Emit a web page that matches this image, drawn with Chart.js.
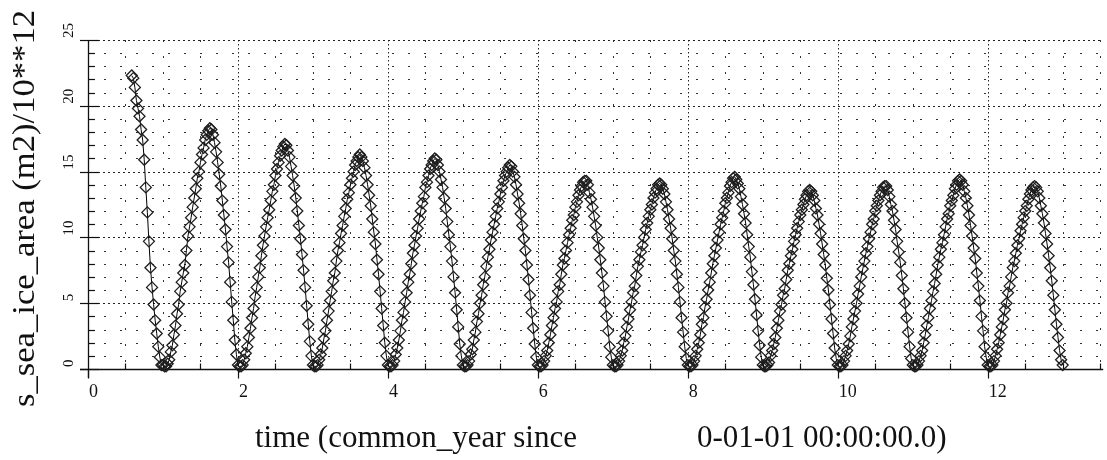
<!DOCTYPE html>
<html>
<head>
<meta charset="utf-8">
<script src="https://cdn.jsdelivr.net/npm/chart.js@4.4.1/dist/chart.umd.min.js"></script>
<style>
  html, body { margin: 0; padding: 0; background: #fff; }
</style>
</head>
<body>
<canvas id="iceChart" width="1107" height="460"></canvas>
<script>
// sampling of the model output: 48 steps per year
const stepsPerYear = 48;
const firstStep = 28; // first sample of year 0 is at step 28

// s_sea_ice_area, 10**12 m2, one array per model year
const year0 = [22.3,22.1,21.4,20.4,19.8,19.2,18.2,17.4,15.9,13.8,11.9,9.7,7.7,6.2,4.9,3.7,2.7,1.7,0.9,0.3];
const year1 = [0.3,0.2,0.2,0.4,0.7,1.3,1.8,2.6,3.3,4.2,4.9,5.9,6.6,7.3,7.9,9.0,10.1,10.8,11.5,12.3,13.0,13.7,14.5,15.0,15.7,16.3,16.8,17.4,17.8,18.1,18.3,18.2,17.8,17.2,16.5,15.7,14.8,13.9,12.8,11.7,10.6,9.3,8.1,6.6,5.1,3.7,2.2,1.1];
const year2 = [0.3,0.2,0.2,0.3,0.7,1.2,1.7,2.4,3.1,3.9,4.6,5.5,6.2,7.0,7.7,8.6,9.4,10.1,10.8,11.5,12.1,12.8,13.5,14.0,14.7,15.2,15.7,16.2,16.6,16.9,17.1,17.0,16.6,16.1,15.4,14.7,13.9,13.0,12.0,10.9,9.9,8.7,7.5,6.2,4.8,3.4,2.1,1.0];
const year3 = [0.3,0.2,0.2,0.3,0.7,1.1,1.6,2.3,2.9,3.7,4.4,5.2,5.9,6.7,7.3,8.2,9.0,9.6,10.3,10.9,11.6,12.2,12.9,13.4,14.0,14.5,15.0,15.5,15.8,16.1,16.3,16.1,15.8,15.3,14.7,14.0,13.2,12.4,11.4,10.4,9.5,8.3,7.2,5.9,4.6,3.3,2.0,1.0];
const year4 = [0.3,0.2,0.2,0.3,0.6,1.1,1.6,2.2,2.9,3.7,4.3,5.1,5.8,6.6,7.2,8.0,8.8,9.4,10.1,10.7,11.4,12.0,12.6,13.1,13.8,14.2,14.7,15.2,15.5,15.8,16.0,15.9,15.5,15.0,14.4,13.8,13.0,12.2,11.2,10.2,9.3,8.2,7.0,5.8,4.5,3.2,1.9,1.0];
const year5 = [0.3,0.2,0.2,0.3,0.6,1.1,1.5,2.2,2.8,3.6,4.2,5.0,5.6,6.4,7.0,7.8,8.5,9.1,9.8,10.4,11.0,11.6,12.2,12.7,13.3,13.8,14.3,14.7,15.0,15.3,15.5,15.4,15.0,14.6,14.0,13.3,12.6,11.8,10.9,9.9,9.0,7.9,6.8,5.6,4.3,3.1,1.9,0.9];
const year6 = [0.3,0.2,0.2,0.3,0.6,1.0,1.4,2.0,2.6,3.3,3.9,4.6,5.1,5.9,6.4,7.2,7.9,8.4,9.0,9.6,10.2,10.7,11.3,11.7,12.3,12.7,13.2,13.6,13.9,14.2,14.3,14.3,14.0,13.4,12.9,12.3,11.6,10.9,10.0,9.2,8.3,7.3,6.3,5.1,4.0,2.9,1.7,0.9];
const year7 = [0.3,0.2,0.2,0.3,0.6,1.0,1.4,2.0,2.5,3.2,3.8,4.5,5.1,5.8,6.3,7.1,7.8,8.3,8.9,9.4,10.0,10.6,11.1,11.6,12.1,12.5,13.0,13.4,13.7,14.0,14.1,14.0,13.7,13.3,12.7,12.1,11.4,10.7,9.9,9.0,8.2,7.2,6.2,5.1,3.9,2.8,1.7,0.8];
const year8 = [0.3,0.2,0.2,0.3,0.6,1.0,1.5,2.0,2.6,3.4,3.9,4.7,5.3,6.0,6.6,7.3,8.0,8.6,9.2,9.8,10.4,11.0,11.5,12.0,12.6,13.0,13.4,13.9,14.2,14.5,14.6,14.4,14.1,13.7,13.1,12.5,11.8,11.1,10.2,9.3,8.5,7.4,6.4,5.3,4.1,2.9,1.8,0.9];
const year9 = [0.3,0.2,0.2,0.3,0.5,1.0,1.4,1.9,2.4,3.1,3.7,4.4,4.9,5.6,6.1,6.8,7.5,8.0,8.6,9.1,9.7,10.2,10.7,11.2,11.7,12.1,12.5,12.9,13.2,13.5,13.6,13.5,13.2,12.8,12.2,11.7,11.0,10.3,9.5,8.7,7.9,6.9,6.0,4.9,3.8,2.7,1.6,0.8];
const year10 = [0.3,0.2,0.2,0.3,0.6,1.0,1.4,1.9,2.5,3.2,3.8,4.4,5.0,5.7,6.3,7.0,7.6,8.2,8.8,9.3,9.9,10.4,11.0,11.4,12.0,12.4,12.8,13.2,13.5,13.8,13.9,13.9,13.6,13.1,12.5,12.0,11.3,10.6,9.7,8.9,8.1,7.1,6.1,5.0,3.9,2.8,1.7,0.8];
const year11 = [0.3,0.2,0.2,0.3,0.6,1.0,1.4,2.0,2.6,3.3,3.9,4.6,5.2,5.9,6.5,7.2,7.9,8.5,9.1,9.6,10.2,10.8,11.4,11.8,12.4,12.8,13.2,13.7,14.0,14.3,14.4,14.3,14.0,13.5,13.0,12.4,11.7,10.9,10.1,9.2,8.4,7.3,6.3,5.2,4.0,2.9,1.7,0.9];
const year12 = [0.3,0.2,0.2,0.3,0.6,1.0,1.5,2.0,2.6,3.2,3.8,4.5,5.0,5.8,6.3,7.0,7.7,8.2,8.8,9.4,9.9,10.5,11.0,11.5,12.0,12.4,12.9,13.3,13.6,13.8,13.9,13.8,13.5,13.0,12.4,11.8,11.1,10.3,9.5,8.6,7.7,6.7,5.6,4.5,3.4,2.4,1.4,0.7,0.3];

const xTicks = [0, 2, 4, 6, 8, 10, 12];
const yTicks = [0, 5, 10, 15, 20, 25];
const yTitle = 's_sea_ice_area (m2)/10**12';
const xTitleLeft = 'time (common_year since';
const xTitleRight = '0-01-01 00:00:00.0)';

// build {x, y} points; time in years since 0-01-01
const years = [year1, year2, year3, year4, year5, year6, year7, year8, year9, year10, year11, year12];
const points = year0.map((v, j) => ({ x: (firstStep + j) / stepsPerYear, y: v }));
years.forEach((arr, k) => {
    arr.forEach((v, j) => points.push({ x: k + 1 + j / stepsPerYear, y: v }));
});

const serif = '"Liberation Serif", "Times New Roman", serif';

function seg(ctx, x1, y1, x2, y2) {
    ctx.beginPath();
    ctx.moveTo(x1, y1);
    ctx.lineTo(x2, y2);
    ctx.stroke();
}

// grid, axes and tick marks in the old plotting style
const paperAxes = {
    id: 'paperAxes',
    beforeDatasetsDraw(chart) {
        const ctx = chart.ctx;
        const xs = chart.scales.x, ys = chart.scales.y;
        const a = chart.chartArea;
        const px = v => Math.round(xs.getPixelForValue(v)) + 0.5;
        const py = v => Math.round(ys.getPixelForValue(v)) + 0.5;
        ctx.save();
        ctx.lineWidth = 1;

        // minor dotted grid
        ctx.strokeStyle = '#333';
        ctx.setLineDash([2, 14]);
        for (let v = 1; v < 25; v++) {
            if (v % 5 === 0) continue;
            seg(ctx, a.left, py(v), a.right, py(v));
        }
        for (let v = 0.5; v <= 13.5; v += 0.5) {
            if (v % 2 === 0) continue;
            seg(ctx, px(v), a.top, px(v), a.bottom);
        }

        // major dotted grid
        ctx.strokeStyle = '#222';
        ctx.setLineDash([2, 3]);
        yTicks.forEach(v => { if (v > 0) seg(ctx, a.left, py(v), a.right, py(v)); });
        ctx.setLineDash([1.5, 2.5]);
        xTicks.forEach(v => { if (v > 0) seg(ctx, px(v), a.top, px(v), a.bottom); });
        ctx.setLineDash([]);

        // axes
        ctx.strokeStyle = '#111';
        ctx.lineWidth = 1.3;
        seg(ctx, px(0), a.top, px(0), a.bottom + 9);
        seg(ctx, a.left - 8, py(0), a.right + 3, py(0));

        // tick marks
        ctx.lineWidth = 1.2;
        yTicks.forEach(v => seg(ctx, a.left - 8, py(v), a.left + 11, py(v)));
        for (let v = 1; v < 25; v++) {
            if (v % 5 === 0) continue;
            seg(ctx, a.left, py(v), a.left + 7, py(v));
        }
        xTicks.forEach(v => seg(ctx, px(v), py(0), px(v), py(0) + 9));
        for (let v = 0.5; v <= 13.5; v += 0.5) {
            if (v % 2 === 0) continue;
            seg(ctx, px(v), py(0) - 6, px(v), py(0));
        }
        ctx.restore();
    },
    afterDraw(chart) {
        const ctx = chart.ctx;
        const xs = chart.scales.x, ys = chart.scales.y;
        ctx.save();
        ctx.fillStyle = '#111';
        ctx.textBaseline = 'alphabetic';

        // x tick labels
        ctx.font = '18px ' + serif;
        ctx.textAlign = 'left';
        xTicks.forEach(v => ctx.fillText(String(v), xs.getPixelForValue(v) + 1, 397));

        // y tick labels, rotated
        ctx.font = '15px ' + serif;
        yTicks.forEach(v => {
            ctx.save();
            ctx.translate(73, ys.getPixelForValue(v) - 2);
            ctx.rotate(-Math.PI / 2);
            ctx.fillText(String(v), 0, 0);
            ctx.restore();
        });

        // axis titles
        ctx.font = '31px ' + serif;
        ctx.fillText(xTitleLeft, 255, 447);
        ctx.fillText(xTitleRight, 697, 447);

        ctx.save();
        ctx.translate(34, 407);
        ctx.rotate(-Math.PI / 2);
        const w = ctx.measureText(yTitle).width;
        ctx.scale(397 / w, 1);
        ctx.fillText(yTitle, 0, 0);
        ctx.restore();

        ctx.restore();
    }
};

const ctx = document.getElementById('iceChart').getContext('2d');
new Chart(ctx, {
    type: 'line',
    data: {
        datasets: [{
            label: 's_sea_ice_area',
            data: points,
            borderColor: '#000',
            borderWidth: 1,
            tension: 0,
            pointStyle: 'rectRot',
            pointRadius: 5.5,
            pointBorderWidth: 1.3,
            pointBorderColor: '#1e1e1e',
            pointBackgroundColor: 'rgba(0,0,0,0)',
            clip: false
        }]
    },
    options: {
        responsive: false,
        animation: false,
        events: [],
        layout: { padding: { top: 40, right: 3, left: 0, bottom: 0 } },
        plugins: { legend: { display: false }, tooltip: { enabled: false } },
        scales: {
            x: {
                type: 'linear',
                min: 0,
                max: 13.5,
                ticks: { display: false },
                grid: { display: false },
                border: { display: false },
                afterFit(scale) { scale.height = 91; }
            },
            y: {
                min: 0,
                max: 25,
                ticks: { display: false },
                grid: { display: false },
                border: { display: false },
                afterFit(scale) { scale.width = 88; }
            }
        }
    },
    plugins: [paperAxes]
});
</script>
</body>
</html>
